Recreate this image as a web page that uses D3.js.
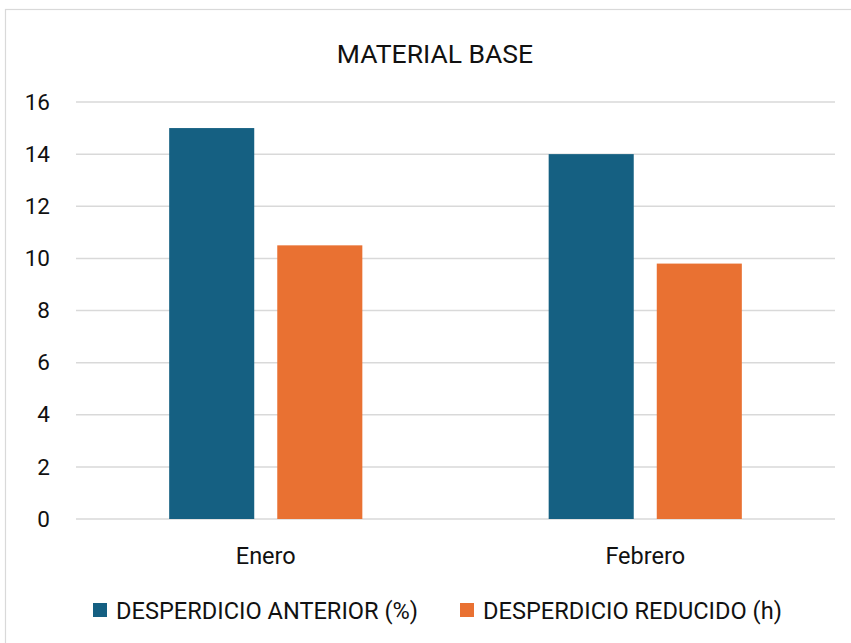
<!DOCTYPE html>
<html>
<head>
<meta charset="utf-8">
<script src="https://cdn.jsdelivr.net/npm/d3@7"></script>
<style>
  html, body { margin: 0; padding: 0; background: #fff; }
  svg { display: block; }
  text { font-family: Roboto, "Noto Sans", sans-serif; fill: #111; }
</style>
</head>
<body>
<svg id="chart" width="851" height="643"></svg>
<script>
// Chart data
const title = "MATERIAL BASE";
const months = ["Enero", "Febrero"];
const seriesNames = ["DESPERDICIO ANTERIOR (%)", "DESPERDICIO REDUCIDO (h)"];
const desperdicioAnterior = [15, 14];
const desperdicioReducido = [10.5, 9.8];
const yTicks = [0, 2, 4, 6, 8, 10, 12, 14, 16];
const colors = ["#156082", "#E97132"];

const seriesValues = [desperdicioAnterior, desperdicioReducido];
const rows = months.map((m, i) => ({
  month: m,
  values: seriesNames.map((s, j) => ({ series: s, value: seriesValues[j][i], color: colors[j] }))
}));

const svg = d3.select("#chart");

// Chart frame (left and top edges visible)
svg.append("rect")
  .attr("x", 5.5).attr("y", 9.5)
  .attr("width", 900).attr("height", 700)
  .attr("fill", "none").attr("stroke", "#D9D9D9").attr("stroke-width", 1.2);

const plot = { left: 76, right: 835, top: 102, bottom: 519 };

const y = d3.scaleLinear().domain([0, 16]).range([plot.bottom, plot.top]);
const x0 = d3.scaleBand().domain(months).range([plot.left, plot.right])
  .paddingInner(0.491).paddingOuter(0.2455);
const x1 = d3.scaleBand().domain(seriesNames).range([0, x0.bandwidth()])
  .paddingInner(0.213);

// Horizontal gridlines
svg.append("g")
  .selectAll("line")
  .data(yTicks)
  .join("line")
  .attr("x1", plot.left).attr("x2", plot.right)
  .attr("y1", d => y(d)).attr("y2", d => y(d))
  .attr("stroke", "#D9D9D9").attr("stroke-width", 1.5);

// Y axis labels
const yAxis = d3.axisLeft(y).tickValues(yTicks).tickSize(0).tickPadding(0).tickFormat(d3.format("d"));
const yg = svg.append("g").attr("transform", `translate(50,0)`).call(yAxis);
yg.select(".domain").remove();
yg.selectAll("text").style("font-size", "22.5px").attr("fill", "#111");

// Bars
const groups = svg.append("g")
  .selectAll("g")
  .data(rows)
  .join("g")
  .attr("transform", d => `translate(${x0(d.month)},0)`);

groups.selectAll("rect")
  .data(d => d.values)
  .join("rect")
  .attr("x", d => x1(d.series))
  .attr("y", d => y(d.value))
  .attr("width", x1.bandwidth())
  .attr("height", d => y(0) - y(d.value))
  .attr("fill", d => d.color);

// Category labels
const xAxis = d3.axisBottom(x0).tickSize(0).tickPadding(0);
const xg = svg.append("g").attr("transform", `translate(0,${plot.bottom})`).call(xAxis);
xg.select(".domain").remove();
xg.selectAll("text").attr("dy", null).attr("y", 45).style("font-size", "23.5px").attr("fill", "#111");

// Title
svg.append("text")
  .attr("x", 435).attr("y", 63)
  .attr("text-anchor", "middle")
  .style("font-size", "26.5px")
  .text(title);

// Legend
const legendX = [93, 460];
const legend = svg.append("g")
  .selectAll("g")
  .data(seriesNames)
  .join("g")
  .attr("transform", (d, i) => `translate(${legendX[i]},603)`);
legend.append("rect")
  .attr("width", 14).attr("height", 14)
  .attr("fill", (d, i) => colors[i]);
legend.append("text")
  .attr("x", 23).attr("y", 15.5)
  .style("font-size", "23.6px")
  .text(d => d);
</script>
</body>
</html>
